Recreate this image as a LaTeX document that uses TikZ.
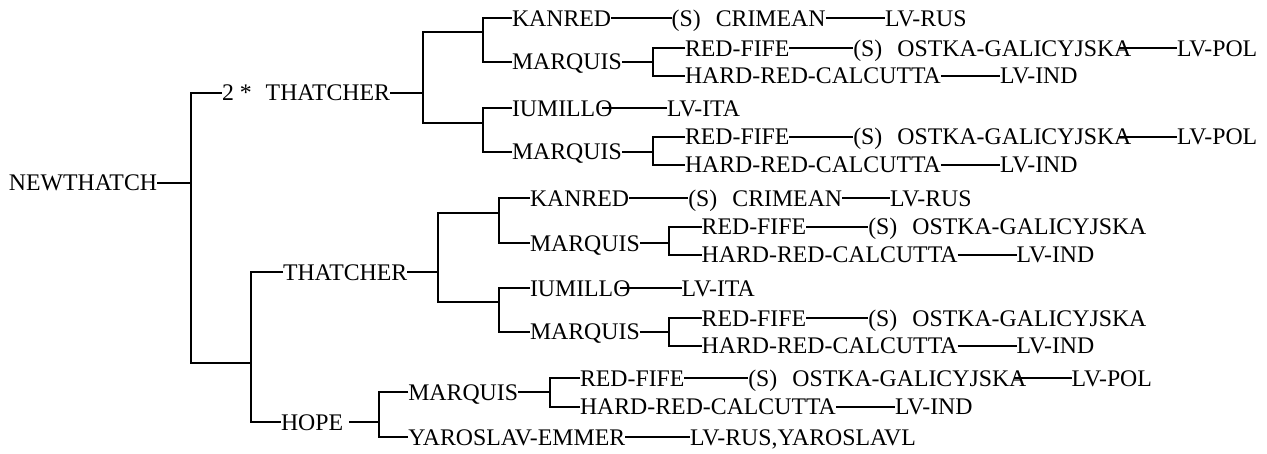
\documentclass[tikz,border=0pt]{standalone}
\usepackage{fontspec}
\setmainfont{Liberation Serif}
\begin{document}
\begin{tikzpicture}[x=1pt,y=-1pt,
  lbl/.style={anchor=west,inner sep=0pt,outer sep=0pt,text height=15.7pt,text depth=0pt,
              font=\fontsize{23.8}{28}\selectfont},
  conn/.style={line width=2pt,line join=miter}]
\useasboundingbox (0,0) rectangle (1267,453);
% ---- nodes ----
\node[lbl] (nt) at (9,183) {NEWTHATCH};
\node[lbl] (tA) at (222,92.7) {2 *\hspace{14pt}THATCHER};
\node[lbl] (kanA) at (512,18.3) {KANRED};
\node[lbl] (crA) at (671.7,18.3) {(S)\hspace{15pt}CRIMEAN};
\node[lbl] (rusA) at (885,18.3) {LV-RUS};
\node[lbl] (marA1) at (512,61.7) {MARQUIS};
\node[lbl] (rfA1) at (685,48.3) {RED-FIFE};
\node[lbl] (osA1) at (853.3,48.3) {(S)\hspace{15pt}OSTKA-GALICYJSKA};
\node[lbl] (polA1) at (1177,48.3) {LV-POL};
\node[lbl] (hrA1) at (685,76) {HARD-RED-CALCUTTA};
\node[lbl] (indA1) at (1000,76) {LV-IND};
\node[lbl] (iumA) at (512,108.3) {IUMILLO};
\node[lbl] (itaA) at (667,108.3) {LV-ITA};
\node[lbl] (marA2) at (512,151.7) {MARQUIS};
\node[lbl] (rfA2) at (685,136.7) {RED-FIFE};
\node[lbl] (osA2) at (853.3,136.7) {(S)\hspace{15pt}OSTKA-GALICYJSKA};
\node[lbl] (polA2) at (1177,136.7) {LV-POL};
\node[lbl] (hrA2) at (685,165) {HARD-RED-CALCUTTA};
\node[lbl] (indA2) at (1000,165) {LV-IND};
\node[lbl] (tB) at (283,272.4) {THATCHER};
\node[lbl] (kanB) at (530,198.3) {KANRED};
\node[lbl] (crB) at (688.3,198.3) {(S)\hspace{15pt}CRIMEAN};
\node[lbl] (rusB) at (890,198.3) {LV-RUS};
\node[lbl] (marB1) at (530,243.3) {MARQUIS};
\node[lbl] (rfB1) at (701.7,226.7) {RED-FIFE};
\node[lbl] (osB1) at (868.3,226.7) {(S)\hspace{15pt}OSTKA-GALICYJSKA};
\node[lbl] (hrB1) at (701.7,254.5) {HARD-RED-CALCUTTA};
\node[lbl] (indB1) at (1016.7,254.5) {LV-IND};
\node[lbl] (iumB) at (530,288.3) {IUMILLO};
\node[lbl] (itaB) at (681.7,288.3) {LV-ITA};
\node[lbl] (marB2) at (530,331.7) {MARQUIS};
\node[lbl] (rfB2) at (701.7,318.3) {RED-FIFE};
\node[lbl] (osB2) at (868.3,318.3) {(S)\hspace{15pt}OSTKA-GALICYJSKA};
\node[lbl] (hrB2) at (701.7,346) {HARD-RED-CALCUTTA};
\node[lbl] (indB2) at (1016.7,346) {LV-IND};
\node[lbl] (hope) at (281,422.3) {HOPE};
\node[lbl] (marC) at (408.3,392.3) {MARQUIS};
\node[lbl] (rfC) at (580,378.3) {RED-FIFE};
\node[lbl] (osC) at (748.3,378.3) {(S)\hspace{15pt}OSTKA-GALICYJSKA};
\node[lbl] (polC) at (1071.7,378.3) {LV-POL};
\node[lbl] (hrC) at (580,406.7) {HARD-RED-CALCUTTA};
\node[lbl] (indC) at (895,406.7) {LV-IND};
\node[lbl] (yar) at (408.3,437.3) {YAROSLAV-EMMER};
\node[lbl] (yarl) at (690,437.3) {LV-RUS,YAROSLAVL};
% ---- bracket points ----
\coordinate (bNT) at (190.7,183);
\coordinate (jB) at (250.7,363.3);
\coordinate (bTA) at (423,92.7);
\coordinate (j1) at (483,32.3);
\coordinate (j2) at (483,122.7);
\coordinate (bMA1) at (653.3,61.7);
\coordinate (bMA2) at (653.3,151.7);
\coordinate (bTB) at (438.3,272.4);
\coordinate (j3) at (499,212.7);
\coordinate (j4) at (499,302.3);
\coordinate (bMB1) at (669,243.3);
\coordinate (bMB2) at (669,331.7);
\coordinate (bH) at (379.3,422.3);
\coordinate (bMC) at (550,392.3);
% ---- tree brackets ----
\draw[conn] (nt.east) -- (bNT);
\draw[conn] (tA.west) -| (bNT) |- (jB);
\draw[conn] (tB.west) -| (jB) |- (hope.west);
\draw[conn] (tA.east) -- (bTA);
\draw[conn] (j1) -| (bTA) |- (j2);
\draw[conn] (kanA.west) -| (j1) |- (marA1.west);
\draw[conn] (iumA.west) -| (j2) |- (marA2.west);
\draw[conn] (marA1.east) -- (bMA1);
\draw[conn] (rfA1.west) -| (bMA1) |- (hrA1.west);
\draw[conn] (marA2.east) -- (bMA2);
\draw[conn] (rfA2.west) -| (bMA2) |- (hrA2.west);
\draw[conn] (tB.east) -- (bTB);
\draw[conn] (j3) -| (bTB) |- (j4);
\draw[conn] (kanB.west) -| (j3) |- (marB1.west);
\draw[conn] (iumB.west) -| (j4) |- (marB2.west);
\draw[conn] (marB1.east) -- (bMB1);
\draw[conn] (rfB1.west) -| (bMB1) |- (hrB1.west);
\draw[conn] (marB2.east) -- (bMB2);
\draw[conn] (rfB2.west) -| (bMB2) |- (hrB2.west);
\draw[conn] ([xshift=6pt]hope.east) -- (bH);
\draw[conn] (marC.west) -| (bH) |- (yar.west);
\draw[conn] (marC.east) -- (bMC);
\draw[conn] (rfC.west) -| (bMC) |- (hrC.west);
% ---- chains ----
\draw[conn] (kanA.east) -- (crA.west);
\draw[conn] (crA.east) -- (rusA.west);
\draw[conn] (rfA1.east) -- (osA1.west);
\draw[conn] ([xshift=-12pt]osA1.east) -- (polA1.west);
\draw[conn] (hrA1.east) -- (indA1.west);
\draw[conn] ([xshift=-10pt]iumA.east) -- (itaA.west);
\draw[conn] (rfA2.east) -- (osA2.west);
\draw[conn] ([xshift=-12pt]osA2.east) -- (polA2.west);
\draw[conn] (hrA2.east) -- (indA2.west);
\draw[conn] (kanB.east) -- (crB.west);
\draw[conn] (crB.east) -- (rusB.west);
\draw[conn] (rfB1.east) -- (osB1.west);
\draw[conn] (hrB1.east) -- (indB1.west);
\draw[conn] ([xshift=-10pt]iumB.east) -- (itaB.west);
\draw[conn] (rfB2.east) -- (osB2.west);
\draw[conn] (hrB2.east) -- (indB2.west);
\draw[conn] (rfC.east) -- (osC.west);
\draw[conn] ([xshift=-12pt]osC.east) -- (polC.west);
\draw[conn] (hrC.east) -- (indC.west);
\draw[conn] (yar.east) -- (yarl.west);
\end{tikzpicture}
\end{document}
